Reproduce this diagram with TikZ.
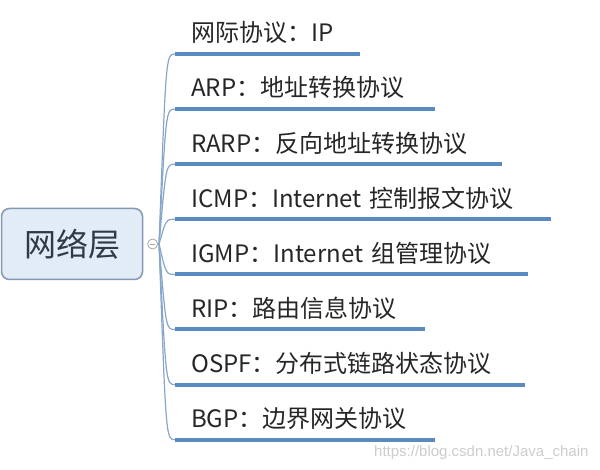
\documentclass[tikz,border=0pt]{standalone}
\usepackage{fontspec}
\setmainfont{Noto Sans CJK SC}
\newfontfamily\markfont{Liberation Sans}
\usetikzlibrary{positioning}

\definecolor{linkblue}{HTML}{5A8BC0}
\definecolor{curveblue}{HTML}{86A6CA}
\definecolor{rootfill}{HTML}{E2ECF7}
\definecolor{rootedge}{HTML}{8299B3}
\definecolor{roottext}{HTML}{2E3A48}

\begin{document}
\begin{tikzpicture}[x=1pt, y=-1pt, every node/.style={font=\fontsize{24}{27}\selectfont, text=black!85}, underline/.style={line width=4pt, draw=linkblue}, branch/.style={line width=1.2pt, draw=curveblue}]
        \tikzstyle{topic} = [rectangle, draw=rootedge, line width=1.5pt, rounded corners=8pt, fill=rootfill, minimum width=141pt, minimum height=71pt, font=\fontsize{32}{36}\selectfont, text=roottext]
        \tikzstyle{fold} = [circle, draw=gray!70, line width=0.8pt, minimum size=10pt, inner sep=0pt, fill=white, path picture={\draw[gray!70, line width=0.8pt] ([xshift=2.5pt]path picture bounding box.west) -- ([xshift=-2.5pt]path picture bounding box.east);}]
        \tikzstyle{item} = [anchor=south west, inner xsep=16pt, inner ysep=0pt, minimum height=42pt, align=left]

        \useasboundingbox (0,0) rectangle (600,470);

        \node[topic] (netlayer) at (72,244) {网络层};
        \node[fold, right=4pt of netlayer] (fold) {};
        \coordinate[right=1pt of fold.east] (hub);

        \node[item, text width=153pt] (ip) at (175,54) {网际协议：IP};
        \node[item, text width=228pt, below=12.7pt of ip.south west, anchor=north west] (arp) {ARP：地址转换协议};
        \node[item, text width=295pt, below=12.7pt of arp.south west, anchor=north west] (rarp) {RARP：反向地址转换协议};
        \node[item, text width=344pt, below=12.7pt of rarp.south west, anchor=north west] (icmp) {ICMP：Internet 控制报文协议};
        \node[item, text width=321pt, below=12.7pt of icmp.south west, anchor=north west] (igmp) {IGMP：Internet 组管理协议};
        \node[item, text width=218pt, below=12.7pt of igmp.south west, anchor=north west] (rip) {RIP：路由信息协议};
        \node[item, text width=318pt, below=12.7pt of rip.south west, anchor=north west] (ospf) {OSPF：分布式链路状态协议};
        \node[item, text width=228pt, below=12.7pt of ospf.south west, anchor=north west] (bgp) {BGP：边界网关协议};

        \node[anchor=east, font=\markfont\fontsize{15}{17}\selectfont, text=gray!40] (mark) at (592,453) {https://blog.csdn.net/Java\_chain};

        % branches from the fold point
        \draw[branch] (hub) .. controls ([xshift=-9pt]ip.south west) .. (ip.south west);
        \draw[branch] (hub) .. controls ([xshift=-9pt]arp.south west) .. (arp.south west);
        \draw[branch] (hub) .. controls ([xshift=-9pt]rarp.south west) .. (rarp.south west);
        \draw[branch] (hub) .. controls ([xshift=-9pt]icmp.south west) .. (icmp.south west);
        \draw[branch] (hub) .. controls ([xshift=-9pt]igmp.south west) .. (igmp.south west);
        \draw[branch] (hub) .. controls ([xshift=-9pt]rip.south west) .. (rip.south west);
        \draw[branch] (hub) .. controls ([xshift=-9pt]ospf.south west) .. (ospf.south west);
        \draw[branch] (hub) .. controls ([xshift=-9pt]bgp.south west) .. (bgp.south west);

        % underlines
        \draw[underline] (ip.south west) -- (ip.south east);
        \draw[underline] (arp.south west) -- (arp.south east);
        \draw[underline] (rarp.south west) -- (rarp.south east);
        \draw[underline] (icmp.south west) -- (icmp.south east);
        \draw[underline] (igmp.south west) -- (igmp.south east);
        \draw[underline] (rip.south west) -- (rip.south east);
        \draw[underline] (ospf.south west) -- (ospf.south east);
        \draw[underline] (bgp.south west) -- (bgp.south east);
\end{tikzpicture}
\end{document}
